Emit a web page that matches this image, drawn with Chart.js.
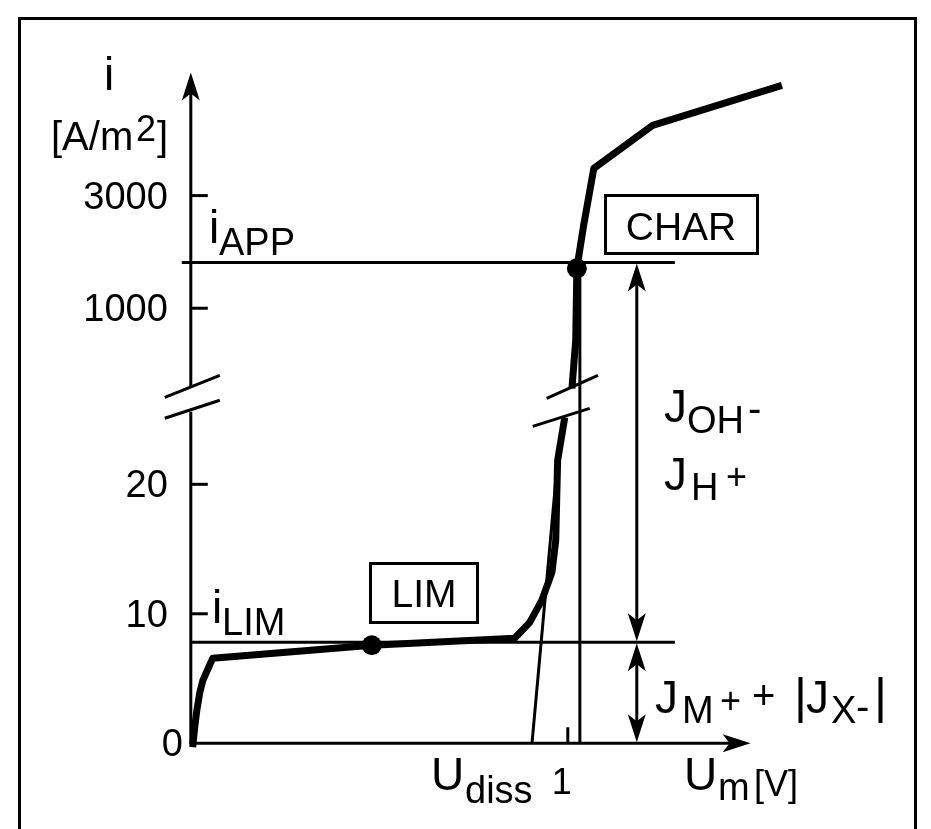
<!DOCTYPE html>
<html>
<head>
<meta charset="utf-8">
<script src="https://cdn.jsdelivr.net/npm/chart.js@4.4.0/dist/chart.umd.min.js"></script>
<style>
  html, body { margin: 0; padding: 0; background: #fff; }
  #wrap { width: 931px; height: 829px; }
</style>
</head>
<body>
<div id="wrap"><canvas id="chart"></canvas></div>
<script>
// Schematic units: x in volts (tick "1" at 1), y in axis positions.
// 0..20 is linear; above the axis break the 1000 / 3000 ticks sit at fixed positions.
const yTickPos = [0, 10, 20, 33.6, 42.3];
const yTickText = ["0", "10", "20", "1000", "3000"];
const xTickPos = [1];
const xTickText = ["1"];

// current-voltage curve, below and above the break
const lowerX = [0.005, 0.011, 0.016, 0.024, 0.032, 0.058, 0.48, 0.859, 0.899, 0.931, 0.958, 0.968, 0.973, 0.992];
const lowerY = [-0.3, 1.4, 2.55, 3.94, 4.86, 6.56, 7.57, 8.11, 9.34, 11.04, 13.2, 15.68, 21.85, 25.17];
const upperX = [1.011, 1.021, 1.024, 1.042, 1.069, 1.225, 1.568];
const upperY = [27.41, 31.12, 36.68, 40.0, 44.4, 47.72, 50.81];

// marked operating points (LIM, CHAR)
const markX = [0.48, 1.024];
const markY = [7.57, 36.68];

// reference levels
const iLim = 7.8;
const iApp = 37.14;
const uDiss = 0.905;
const uApp = 1.032;
const tangentTop = [0.973, 21.85];
const axisBreak = [25.6, 27.5];
const yArrowTip = 51.8;
const xArrowTip = 1.485;
const fluxX = 1.183;

const FONT = '"Liberation Sans", Arial, Helvetica, sans-serif';

function pts(xs, ys) {
    return xs.map((v, i) => ({ x: v, y: ys[i] }));
}

function arrowHead(ctx, tx, ty, dx, dy) {
    const len = 28, half = 9, notch = 7;
    const bx = tx - dx * len, by = ty - dy * len;
    const nx = tx - dx * (len - notch), ny = ty - dy * (len - notch);
    ctx.beginPath();
    ctx.moveTo(tx, ty);
    ctx.lineTo(bx - dy * half, by + dx * half);
    ctx.lineTo(nx, ny);
    ctx.lineTo(bx + dy * half, by - dx * half);
    ctx.closePath();
    ctx.fill();
}

function seg(ctx, x1, y1, x2, y2) {
    ctx.beginPath();
    ctx.moveTo(x1, y1);
    ctx.lineTo(x2, y2);
    ctx.stroke();
}

function txt(ctx, s, x, y, size, align) {
    ctx.font = size + "px " + FONT;
    ctx.textAlign = align || "left";
    ctx.textBaseline = "alphabetic";
    ctx.fillText(s, x, y);
}

const schematic = {
    id: "schematic",
    beforeDatasetsDraw(chart) {
        const { ctx, scales: { x, y } } = chart;
        const px = v => x.getPixelForValue(v);
        const py = v => y.getPixelForValue(v);
        ctx.save();
        ctx.strokeStyle = "#000";
        ctx.fillStyle = "#000";
        ctx.lineCap = "butt";

        // frame
        ctx.lineWidth = 3;
        ctx.strokeRect(19.5, 18.5, 896, 840);

        // y axis with break
        seg(ctx, px(0), py(0) + 1, px(0), py(axisBreak[0]));
        seg(ctx, px(0), py(axisBreak[1]), px(0), py(yArrowTip) + 20);
        arrowHead(ctx, px(0), py(yArrowTip), 0, -1);

        // x axis
        seg(ctx, px(0), py(0), px(xArrowTip) - 20, py(0));
        arrowHead(ctx, px(xArrowTip), py(0), 1, 0);

        // break marks on the y axis
        seg(ctx, px(-0.069), py(25.1), px(0.077), py(26.49));
        seg(ctx, px(-0.069), py(26.72), px(0.077), py(28.42));
        // break marks on the curve
        seg(ctx, px(0.907), py(24.48), px(1.058), py(25.87));
        seg(ctx, px(0.944), py(26.64), px(1.08), py(28.42));

        // tick marks, pointing into the plot
        yTickPos.forEach(v => {
            if (v > 0) seg(ctx, px(0), py(v), px(0) + 17, py(v));
        });
        xTickPos.forEach(v => seg(ctx, px(v), py(0), px(v), py(0) - 16));

        // flux arrows between the levels
        const ax = px(fluxX);
        seg(ctx, ax, py(iApp) + 10, ax, py(iLim) - 10);
        arrowHead(ctx, ax, py(iApp) + 1, 0, -1);
        arrowHead(ctx, ax, py(iLim) - 1, 0, 1);
        seg(ctx, ax, py(iLim) + 10, ax, py(0) - 10);
        arrowHead(ctx, ax, py(iLim) + 1, 0, -1);
        arrowHead(ctx, ax, py(0) - 1, 0, 1);

        // boxes
        ctx.lineWidth = 3;
        ctx.strokeRect(370.5, 563.5, 107, 59);
        ctx.strokeRect(605.5, 195.5, 152, 58);
        ctx.restore();
    },
    afterDraw(chart) {
        const { ctx, scales: { x, y } } = chart;
        const px = v => x.getPixelForValue(v);
        const py = v => y.getPixelForValue(v);
        ctx.save();
        ctx.fillStyle = "#000";

        // y axis title
        txt(ctx, "i", 109, 90, 46, "center");
        txt(ctx, "[A/m", 51, 150, 40);
        txt(ctx, "2", 136, 141, 36);
        txt(ctx, "]", 157, 150, 40);

        // y tick labels
        yTickPos.forEach((v, i) => {
            const right = v === 0 ? px(0) - 8 : px(0) - 23;
            txt(ctx, yTickText[i], right, py(v) + 13, 38, "right");
        });

        // x tick label
        xTickPos.forEach((v, i) => txt(ctx, xTickText[i], px(v) - 6, 794, 36, "center"));

        // level labels
        txt(ctx, "i", 209, 243, 46);
        txt(ctx, "APP", 219, 255, 38);
        txt(ctx, "i", 212, 623, 46);
        txt(ctx, "LIM", 222, 635, 38);

        // boxed region labels
        txt(ctx, "LIM", 424, 607, 39, "center");
        txt(ctx, "CHAR", 681, 240, 39, "center");

        // fluxes
        txt(ctx, "J", 664, 422, 46);
        txt(ctx, "OH", 687, 433, 38);
        txt(ctx, "-", 748, 422, 40);
        txt(ctx, "J", 664, 490, 46);
        txt(ctx, "H", 691, 500, 38);
        txt(ctx, "+", 726, 489, 36);

        txt(ctx, "J", 655, 713, 46);
        txt(ctx, "M", 682, 723, 38);
        txt(ctx, "+", 720, 713, 36);
        txt(ctx, "+", 752, 709, 40);
        txt(ctx, "|", 794, 713, 50);
        txt(ctx, "J", 806, 713, 46);
        txt(ctx, "X", 831, 723, 38);
        txt(ctx, "-", 856, 720, 40);
        txt(ctx, "|", 874, 713, 50);

        // x axis labels
        txt(ctx, "U", 431, 790, 46);
        txt(ctx, "diss", 465, 803, 38);
        txt(ctx, "U", 684, 790, 46);
        txt(ctx, "m", 718, 800, 38);
        txt(ctx, "[V]", 754, 796, 36);
        ctx.restore();
    }
};

const thin = { borderColor: "#000", borderWidth: 3, pointRadius: 0, showLine: true, clip: false };

new Chart(document.getElementById("chart"), {
    type: "scatter",
    data: {
        datasets: [
            Object.assign({ label: "i_LIM", data: pts([0, 1.284], [iLim, iLim]) }, thin),
            Object.assign({ label: "i_APP", data: pts([-0.024, 1.284], [iApp, iApp]) }, thin),
            Object.assign({ label: "U_diss tangent", data: pts([uDiss, tangentTop[0]], [0, tangentTop[1]]) }, thin),
            Object.assign({ label: "U at i_APP", data: pts([uApp, uApp], [0, iApp]) }, thin),
            {
                label: "curve (lower)",
                data: pts(lowerX, lowerY),
                showLine: true, borderColor: "#000", borderWidth: 7,
                borderJoinStyle: "round", pointRadius: 0, clip: false
            },
            {
                label: "curve (upper)",
                data: pts(upperX, upperY),
                showLine: true, borderColor: "#000", borderWidth: 7,
                borderJoinStyle: "round", pointRadius: 0, clip: false
            },
            {
                label: "points",
                data: pts(markX, markY),
                showLine: false, pointRadius: 10, pointBorderWidth: 0,
                backgroundColor: "#000", borderColor: "#000", clip: false
            }
        ]
    },
    options: {
        responsive: true,
        maintainAspectRatio: false,
        animation: false,
        events: [],
        layout: { padding: { left: 40, right: 137, top: 70, bottom: 21 } },
        scales: {
            x: { type: "linear", min: -0.4, max: 1.6, display: false },
            y: { type: "linear", min: -5, max: 52, display: false }
        },
        plugins: {
            legend: { display: false },
            tooltip: { enabled: false }
        }
    },
    plugins: [schematic]
});
</script>
</body>
</html>
